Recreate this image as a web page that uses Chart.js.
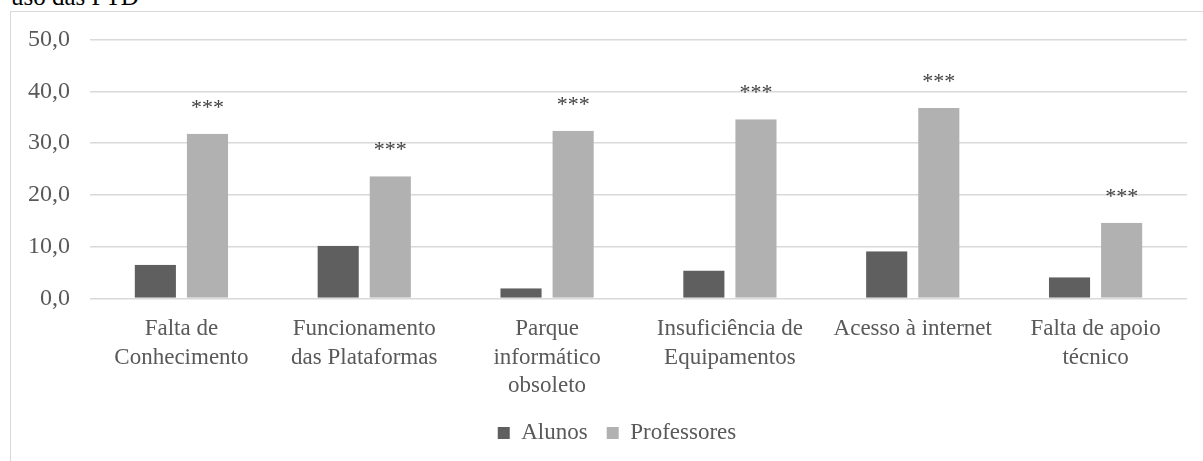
<!DOCTYPE html>
<html>
<head>
<meta charset="utf-8">
<script src="https://cdn.jsdelivr.net/npm/chart.js@4"></script>
<style>
    html, body { margin: 0; padding: 0; background: #fff; overflow: hidden; }
    body { width: 1203px; height: 461px; position: relative; }
    #caption {
        position: absolute; left: 11px; top: -15px;
        font: 25px 'Liberation Serif', serif; line-height: 24px; color: #000;
        white-space: nowrap;
    }
    #frame {
        position: absolute; left: 10px; top: 11px;
        width: 1214px; height: 470px;
        border: 1.5px solid #d9d9d9; box-sizing: border-box;
        background: #fff;
    }
    #frame canvas { display: block; }
</style>
</head>
<body>
<div id="caption">uso das PTD</div>
<div id="frame"><canvas id="byObstacle"></canvas></div>
<script>
// ── Data ──────────────────────────────────────────────────

const categories = [
    ['Falta de', 'Conhecimento'],
    ['Funcionamento', 'das Plataformas'],
    ['Parque', 'informático', 'obsoleto'],
    ['Insuficiência de', 'Equipamentos'],
    ['Acesso à internet'],
    ['Falta de apoio', 'técnico']
];
const alunos      = [6.5, 10.2, 2.0, 5.4, 9.1, 4.1];
const professores = [31.8, 23.6, 32.4, 34.6, 36.8, 14.6];
const significance = ['***', '***', '***', '***', '***', '***'];
const yTicks = [0, 10, 20, 30, 40, 50];

// ── Style ─────────────────────────────────────────────────

const TEXT  = '#595959';
const GRID  = '#d9d9d9';
const SERIF = "'Liberation Serif', 'Times New Roman', serif";

// ── Plugin: significance stars above Professores bars ─────

const starsPlugin = {
    id: 'stars',
    afterDatasetsDraw(chart) {
        const ctx  = chart.ctx;
        const meta = chart.getDatasetMeta(1);
        ctx.save();
        ctx.fillStyle = '#404040';
        ctx.font = '22px ' + SERIF;
        ctx.textAlign = 'center';
        ctx.textBaseline = 'alphabetic';
        meta.data.forEach((bar, i) => {
            if (significance[i]) ctx.fillText(significance[i], bar.x, bar.y - 20);
        });
        ctx.restore();
    }
};

// ── Plugin: centre the legend on the whole frame, not the padded box ──

const legendShift = {
    id: 'legendShift',
    afterLayout(chart) {
        chart.legend.left  += 13;
        chart.legend.right += 13;
    }
};

// ── Chart ─────────────────────────────────────────────────

// transparent side borders leave the white gap between the two bars
const gap = { left: 5.5, right: 5.5, top: 0, bottom: 0 };

new Chart(document.getElementById('byObstacle').getContext('2d'), {
    type: 'bar',
    plugins: [starsPlugin, legendShift],
    data: {
        labels: categories,
        datasets: [
            { label: 'Alunos',      data: alunos,      backgroundColor: '#5f5f5f' },
            { label: 'Professores', data: professores, backgroundColor: '#b1b1b1' }
        ]
    },
    options: {
        responsive: true,
        maintainAspectRatio: false,
        animation: false,
        datasets: {
            bar: {
                categoryPercentage: 0.57,
                barPercentage: 1.0,
                borderColor: 'rgba(0,0,0,0)',
                borderWidth: gap,
                borderSkipped: false
            }
        },
        layout: { padding: { left: 10, right: 36, top: 27.5, bottom: 25.5 } },
        plugins: {
            legend: {
                position: 'bottom',
                labels: {
                    color: TEXT,
                    font: { family: SERIF, size: 23 },
                    boxWidth: 12, boxHeight: 12,
                    padding: 19
                }
            },
            tooltip: { enabled: false }
        },
        scales: {
            x: {
                afterFit: scale => { scale.height = 104; },
                grid:   { display: false, drawTicks: false },
                border: { display: false },
                ticks:  { color: TEXT, font: { family: SERIF, size: 23, lineHeight: 1.25 },
                          padding: 16, maxRotation: 0, autoSkip: false }
            },
            y: {
                min: 0, max: 50,
                afterBuildTicks: scale => { scale.ticks = yTicks.map(v => ({ value: v })); },
                afterFit: scale => { scale.width = 69; },
                // invisible tick marks push the labels away from the plot
                grid:   { color: GRID, lineWidth: 1.5, drawTicks: true, tickLength: 17,
                          tickColor: 'rgba(0,0,0,0)' },
                border: { display: false },
                ticks:  { color: TEXT, font: { family: SERIF, size: 24 }, padding: 3,
                          callback: v => v.toFixed(1).replace('.', ',') }
            }
        }
    }
});
</script>
</body>
</html>
